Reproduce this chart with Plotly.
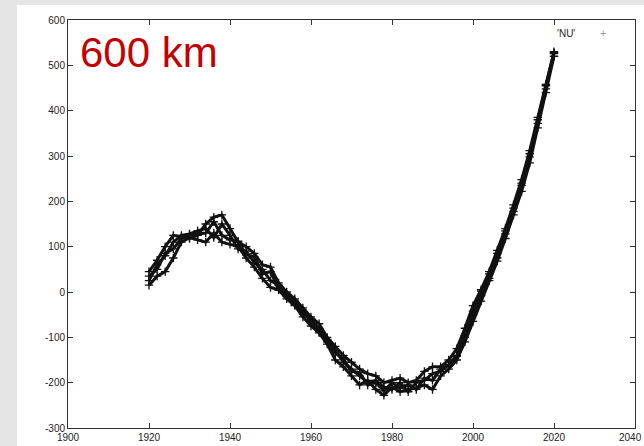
import plotly.graph_objects as go

years = list(range(1920, 2021, 2))

s1 = [45, 70, 100, 125, 122, 118, 125, 150, 165, 170, 140, 110, 100, 85, 60, 55, 20, 0, -15, -35,
      -55, -70, -100, -120, -140, -155, -170, -180, -185, -200, -195, -190, -200, -195, -175, -165,
      -165, -150, -125, -80, -30, 5, 45, 92, 140, 192, 248, 312, 385, 458, 530]
s2 = [15, 35, 45, 75, 110, 120, 115, 110, 130, 110, 105, 100, 75, 55, 30, 10, 5, -15, -30, -55,
      -75, -90, -115, -150, -165, -185, -205, -195, -215, -228, -210, -220, -215, -212, -205, -215,
      -185, -170, -150, -110, -65, -20, 25, 68, 118, 170, 222, 285, 362, 440, 520]
s3 = [25, 60, 80, 110, 125, 128, 135, 140, 120, 150, 125, 95, 90, 65, 50, 25, 15, -5, -28, -40,
      -68, -88, -105, -128, -155, -170, -185, -200, -195, -210, -215, -200, -220, -200, -195, -180,
      -175, -160, -140, -100, -50, -8, 30, 75, 128, 178, 235, 298, 372, 448, 526]
s4 = [35, 50, 85, 95, 118, 125, 128, 130, 155, 125, 115, 112, 82, 78, 40, 45, 5, -10, -20, -48,
      -60, -82, -110, -135, -148, -175, -178, -205, -200, -218, -200, -212, -205, -215, -190, -195,
      -170, -162, -142, -95, -42, 2, 40, 85, 135, 185, 240, 305, 380, 455, 528]

series = [s1, s2, s3, s4]

x_ticks = [1900, 1920, 1940, 1960, 1980, 2000, 2020]
y_ticks = [-300, -200, -100, 0, 100, 200, 300, 400, 500, 600]
last_x_tick = 2040

fig = go.Figure()
for s in series:
    fig.add_trace(go.Scatter(
        x=years, y=s, mode="lines+markers",
        line=dict(color="#111111", width=3),
        marker=dict(symbol="cross-thin", size=6, line=dict(color="#111111", width=1.3)),
        showlegend=False, hoverinfo="skip"))

L, R, T, B = 68, 9, 20, 18
W, H = 644, 446
pw, ph = W - L - R, H - T - B
font_family = "Liberation Sans, Arial, sans-serif"

axis_common = dict(showgrid=False, zeroline=False, ticks="inside", ticklen=5,
                   tickcolor="#333", mirror="allticks", showline=True,
                   linecolor="#333", linewidth=1, automargin=False,
                   tickfont=dict(family=font_family, size=10, color="#222"))

fig.update_xaxes(range=[1900, 2040], tickvals=x_ticks + [last_x_tick],
                 ticktext=[str(v) for v in x_ticks] + [""], **axis_common)
fig.update_yaxes(range=[-300, 600], tickvals=y_ticks, ticktext=[str(v) for v in y_ticks], **axis_common)

# last x tick label, kept inside the page's right edge
fig.add_annotation(x=(W - L) / pw, xref="paper", y=0, yref="paper", yshift=-9,
                   text=str(last_x_tick), showarrow=False, xanchor="right", yanchor="middle",
                   font=dict(family=font_family, size=10, color="#222"))

fig.add_shape(type="rect", xref="paper", yref="paper",
              x0=(17 - L) / pw, x1=(W - L) / pw + 0.05,
              y0=-(B + 5) / ph, y1=(H - B - 5) / ph,
              fillcolor="white", line=dict(width=0), layer="below")

fig.add_annotation(x=(78 - L) / pw, y=(H - B - 52) / ph, xref="paper", yref="paper",
                   text="600 km", showarrow=False, xanchor="left", yanchor="middle",
                   font=dict(family=font_family, size=42, color="#c40000"))
fig.add_annotation(x=(566 - L) / pw, y=(H - B - 33) / ph, xref="paper", yref="paper",
                   text="'NU'", showarrow=False, xanchor="center", yanchor="middle",
                   font=dict(family=font_family, size=10, color="#222"))
fig.add_annotation(x=(603 - L) / pw, y=(H - B - 33) / ph, xref="paper", yref="paper",
                   text="+", showarrow=False, xanchor="center", yanchor="middle",
                   font=dict(family=font_family, size=11, color="#999999"))

fig.update_layout(width=W, height=H, margin=dict(l=L, r=R, t=T, b=B, autoexpand=False),
                  paper_bgcolor="#e5e5e5", plot_bgcolor="white", showlegend=False)

fig.write_html("out.html")
